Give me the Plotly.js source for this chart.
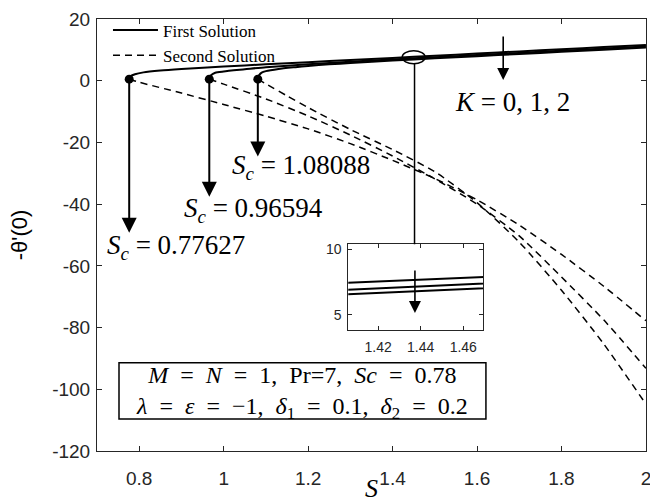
<!DOCTYPE html>
<html><head><meta charset="utf-8">
<script src="https://cdn.plot.ly/plotly-3.0.1.min.js"></script>
<style>html,body{margin:0;padding:0;background:#fff}#chart{width:650px;height:503px}</style>
</head><body><div id="chart"></div>
<script>
// ---- data ----
const kLabels = ['K = 0', 'K = 1', 'K = 2'];
const scValues = [0.77627, 0.96594, 1.08088];
const turnY = [0.5, 0.5, 0.5];

// First solution (upper branch)
const firstS_K0 = [0.77627,0.7775,0.780,0.79,0.81,0.85,0.90,1.0,1.1,1.2,1.3,1.4,1.5,1.6,1.7,1.8,1.9,2.0];
const firstY_K0 = [0.5,1.0,1.5,2.1,2.7,3.3,3.8,4.6,5.3,6.0,6.7,7.4,8.1,8.8,9.5,10.2,10.9,11.6];
const firstS_K1 = [0.96594,0.967,0.970,0.98,1.0,1.05,1.1,1.2,1.3,1.4,1.5,1.6,1.7,1.8,1.9,2.0];
const firstY_K1 = [0.5,1.2,1.8,2.6,3.0,3.7,4.4,5.3,6.15,6.9,7.6,8.3,9.0,9.7,10.4,11.1];
const firstS_K2 = [1.08088,1.0815,1.084,1.09,1.1,1.13,1.17,1.2,1.25,1.3,1.4,1.5,1.6,1.7,1.8,1.9,2.0];
const firstY_K2 = [0.5,1.2,1.8,2.6,3.1,3.8,4.4,4.8,5.3,5.75,6.53,7.25,7.95,8.65,9.35,10.05,10.75];

// Second solution (lower branch)
const secondS_K0 = [0.77627,0.8,0.9,1.0,1.1,1.2,1.3,1.4,1.5,1.6,1.7,1.8,1.9,2.0];
const secondY_K0 = [0.5,-0.5,-4.0,-7.7,-11.5,-15.6,-20.4,-25.8,-31.7,-38.6,-46.8,-56.3,-66.6,-77.8];
const secondS_K1 = [0.96594,1.0,1.1,1.2,1.3,1.4,1.5,1.6,1.7,1.8,1.9,2.0];
const secondY_K1 = [0.5,-1.1,-5.9,-11.4,-17.6,-24.4,-31.8,-40.0,-50.3,-63.6,-77.5,-93.2];
const secondS_K2 = [1.08088,1.1,1.15,1.2,1.3,1.4,1.5,1.6,1.7,1.8,1.9,2.0];
const secondY_K2 = [0.5,-1.0,-4.9,-8.7,-15.8,-22.3,-29.5,-39.5,-52.3,-67.9,-85.3,-104.8];

const xTicks = [0.8,1,1.2,1.4,1.6,1.8,2];
const yTicks = [-120,-100,-80,-60,-40,-20,0,20];
const insetXTicks = [1.42,1.44,1.46];
const insetYTicks = [5,10];
const scLabels = ['0.77627','0.96594','1.08088'];
const scArrowTipY = [-49.3,-37.6,-24.6];

// ---- traces ----
const firstS = [firstS_K0, firstS_K1, firstS_K2];
const firstY = [firstY_K0, firstY_K1, firstY_K2];
const secondS = [secondS_K0, secondS_K1, secondS_K2];
const secondY = [secondY_K0, secondY_K1, secondY_K2];

const traces = [];
for (let i = 0; i < 3; i++) {
  traces.push({x: firstS[i], y: firstY[i], mode: 'lines', type: 'scatter',
    line: {color: '#000', width: 2, shape: 'spline', smoothing: 0.6},
    name: 'First Solution', showlegend: i === 0, hoverinfo: 'skip'});
}
for (let i = 0; i < 3; i++) {
  traces.push({x: secondS[i], y: secondY[i], mode: 'lines', type: 'scatter',
    line: {color: '#000', width: 1.5, dash: '7px,5px', shape: 'spline', smoothing: 0.6},
    name: 'Second Solution', showlegend: i === 0, hoverinfo: 'skip'});
}
traces.push({x: scValues, y: turnY, mode: 'markers', type: 'scatter',
  marker: {color: '#000', size: 9}, showlegend: false, hoverinfo: 'skip'});
// inset copies
for (let i = 0; i < 3; i++) {
  traces.push({x: firstS[i], y: firstY[i], mode: 'lines', type: 'scatter', xaxis: 'x2', yaxis: 'y2',
    line: {color: '#000', width: 2}, showlegend: false, hoverinfo: 'skip'});
}

const serif = 'Liberation Serif, Times New Roman, serif';
const sans = 'Liberation Sans, Arial, sans-serif';
const NB = '\u00A0';
const EQ = ' = ';
const EQB = ' ' + NB + '=' + NB + ' ';
const CM = ',' + NB + ' ';
const axisCommon = {showgrid: false, zeroline: false, showline: true, linecolor: '#262626', linewidth: 1,
  ticks: 'inside', mirror: 'ticks', tickcolor: '#262626', ticklen: 5};

const annotations = [];
for (let i = 0; i < 3; i++) {
  annotations.push({x: scValues[i], y: scArrowTipY[i], ax: scValues[i], ay: turnY[i],
    xref: 'x', yref: 'y', axref: 'x', ayref: 'y', text: '', showarrow: true,
    arrowhead: 2, arrowsize: 1.5, arrowwidth: 2, arrowcolor: '#000'});
}
const scLabelPos = [[0.719,-53.8],[0.9006,-41.9],[1.015,-27.9]];
for (let i = 0; i < 3; i++) {
  annotations.push({x: scLabelPos[i][0], y: scLabelPos[i][1], xref: 'x', yref: 'y', xanchor: 'left', yanchor: 'middle',
    text: '<i>S</i><sub><i>c</i></sub>' + EQ + scLabels[i], showarrow: false,
    font: {family: serif, size: 27, color: '#000'}});
}
// K arrow + label
annotations.push({x: 1.662, y: 0.2, ax: 1.662, ay: 14.8, xref: 'x', yref: 'y', axref: 'x', ayref: 'y',
  text: '', showarrow: true, arrowhead: 2, arrowsize: 1.5, arrowwidth: 1.6, arrowcolor: '#000'});
annotations.push({x: 1.685, y: -6.8, xref: 'x', yref: 'y', text: '<i>K</i>' + EQ + '0, 1, 2', showarrow: false,
  font: {family: serif, size: 27, color: '#000'}});
// inset arrow
annotations.push({x: 1.4373, y: 5.15, ax: 1.4373, ay: 8.48, xref: 'x2', yref: 'y2', axref: 'x2', ayref: 'y2',
  text: '', showarrow: true, arrowhead: 2, arrowsize: 1.5, arrowwidth: 1.6, arrowcolor: '#000'});
// parameter box text
annotations.push({x: 1.1866, y: -100.9, xref: 'x', yref: 'y', showarrow: false,
  text: '<i>M</i>' + EQB + '<i>N</i>' + EQB + '1' + CM + 'Pr=7' + CM + '<i>Sc</i>' + EQB + '0.78' + '<br>' +
        '<i>λ</i>' + EQB + '<i>ε</i>' + EQB + '−1' + CM + '<i>δ</i><sub>1</sub>' + EQB + '0.1' + CM + '<i>δ</i><sub>2</sub>' + EQB + '0.2',
  font: {family: serif, size: 24, color: '#000'}});

const shapes = [
  {type: 'circle', xref: 'x', yref: 'y', x0: 1.4228, x1: 1.4772, y0: 5.5, y1: 9.7, line: {color: '#000', width: 1.5}},
  {type: 'line', xref: 'x', yref: 'y', x0: 1.452, x1: 1.452, y0: 5.5, y1: -53.0, line: {color: '#000', width: 1.5}},
  {type: 'rect', xref: 'x', yref: 'y', x0: 0.7521, x1: 1.6211, y0: -91.4, y1: -109.6, line: {color: '#000', width: 1.5}, fillcolor: 'rgba(0,0,0,0)'}
];

const layout = {
  width: 650, height: 503,
  margin: {l: 97, r: 4, t: 19, b: 52},
  paper_bgcolor: '#fff', plot_bgcolor: '#fff',
  showlegend: true,
  legend: {x: 0.02, y: 1.015, xanchor: 'left', yanchor: 'top', bgcolor: 'rgba(0,0,0,0)', borderwidth: 0,
    font: {family: serif, size: 17, color: '#000'}, tracegroupgap: 0, itemwidth: 45},
  xaxis: Object.assign({}, axisCommon, {range: [0.7, 2.0002], tickvals: xTicks, ticktext: xTicks.map(String),
    tickfont: {family: sans, size: 19, color: '#262626'}, ticklabelstandoff: 10, ticklabeloverflow: 'allow',
    title: {text: '<i>S</i>', font: {family: serif, size: 26, color: '#000'}, standoff: 22}}),
  yaxis: Object.assign({}, axisCommon, {range: [-120, 20], tickvals: yTicks, ticktext: yTicks.map(String),
    tickfont: {family: sans, size: 19, color: '#262626'}, ticklabelstandoff: 2,
    title: {text: "-θ'(0)", font: {family: sans, size: 22, color: '#000'}, standoff: 18}}),
  xaxis2: Object.assign({}, axisCommon, {domain: [0.4577, 0.7036], anchor: 'y2', range: [1.406, 1.4694],
    tickvals: insetXTicks, ticktext: insetXTicks.map(String), ticklen: 4, ticklabelstandoff: 4,
    tickfont: {family: sans, size: 14, color: '#262626'}}),
  yaxis2: Object.assign({}, axisCommon, {domain: [0.2801, 0.4785], anchor: 'x2', range: [3.86, 10.36],
    tickvals: insetYTicks, ticktext: insetYTicks.map(String), ticklen: 4, ticklabelstandoff: 3,
    tickfont: {family: sans, size: 14, color: '#262626'}}),
  annotations: annotations,
  shapes: shapes
};

Plotly.newPlot('chart', traces, layout, {staticPlot: true, displayModeBar: false});
</script>
</body></html>
